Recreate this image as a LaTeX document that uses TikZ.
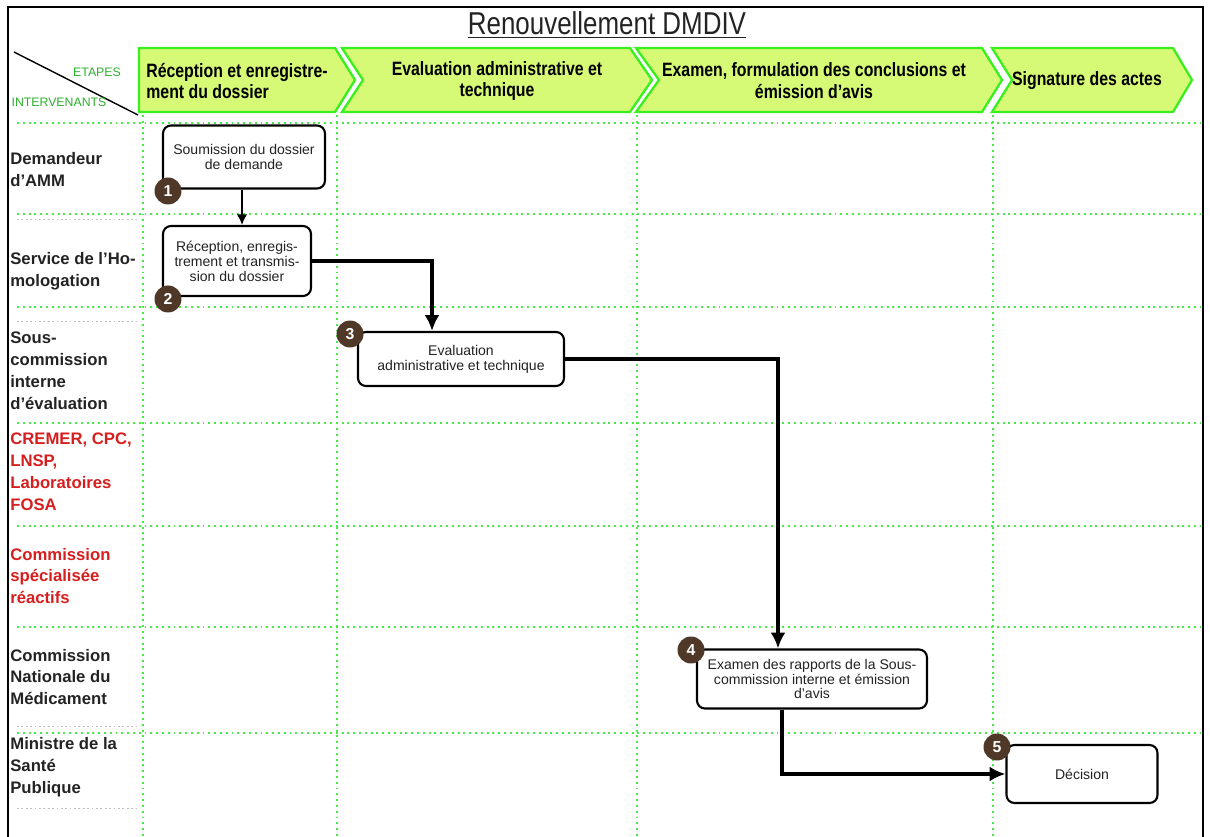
\documentclass[tikz,border=0pt]{standalone}
\usepackage{fontspec}
\setmainfont{Liberation Sans}
\newfontfamily\narrowfont[FakeStretch=0.82]{Liberation Sans}
\usetikzlibrary{arrows.meta}

\definecolor{stagefill}{RGB}{214,250,118}
\definecolor{stageline}{RGB}{55,240,30}
\definecolor{gridgreen}{RGB}{70,235,70}
\definecolor{badgebrown}{RGB}{80,56,40}
\definecolor{actorred}{RGB}{215,30,30}
\definecolor{actorgray}{RGB}{35,35,35}
\definecolor{headgreen}{RGB}{45,175,45}

\tikzset{
  stage/.style={draw=stageline, fill=stagefill, line width=1.3pt, line join=miter},
  stagetext/.style={font=\narrowfont\bfseries\fontsize{11}{12.5}\selectfont, text=black, inner sep=0pt},
  lane/.style={gridgreen, line width=1.1pt, dash pattern=on 1.1pt off 2.2pt},
  faintlane/.style={black!25, line width=0.5pt, dash pattern=on 1pt off 1.5pt},
  actor/.style={anchor=west, align=left, inner sep=0pt, text=actorgray,
    font=\bfseries\fontsize{9.5}{12.5}\selectfont},
  taskbox/.style={draw, line width=1.2pt, rounded corners=4.5pt, fill=white, align=center,
    text=actorgray, font=\fontsize{8}{8.5}\selectfont, inner sep=2pt},
  badge/.style={circle, fill=badgebrown, text=white, inner sep=0pt, minimum size=0.54cm,
    font=\bfseries\fontsize{9}{9}\selectfont},
  flow/.style={line width=2pt, -{Latex[length=9pt,width=8.5pt]}},
  thinflow/.style={line width=1.1pt, -{Latex[length=6pt,width=6pt]}}
}

\begin{document}
\begin{tikzpicture}[x=0.02cm, y=-0.02cm]
		\useasboundingbox (0,0) rectangle (1210,837);
		
		%%%%% frame and title %%%%%
		\draw[line width=1.4pt] (8,860) -- (8,7) -- (1203,7) -- (1203,860);
		\node[font=\narrowfont\fontsize{18}{20}\selectfont, text=actorgray] (title) at (607,25) {\underline{Renouvellement DMDIV}};
		
		%%%%% stages %%%%%
		\draw[stage] (139,48) -- (335,48) -- (355,80) -- (335,112) -- (139,112) -- cycle;
		\draw[stage] (342,48) -- (630,48) -- (652,80) -- (630,112) -- (342,112) -- (363,80) -- cycle;
		\draw[stage] (636,48) -- (982,48) -- (1002,80) -- (982,112) -- (636,112) -- (659,80) -- cycle;
		\draw[stage] (992,48) -- (1173,48) -- (1192,80) -- (1173,112) -- (992,112) -- (1012,80) -- cycle;
		\node[stagetext, anchor=west, align=left] (stage1) at (146,81) {Réception et enregistre-\\ment du dossier};
		\node[stagetext, align=center] (stage2) at (497,81) {Evaluation administrative et\\technique};
		\node[stagetext, align=center] (stage3) at (814,81) {Examen, formulation des conclusions et\\émission d’avis};
		\node[stagetext] (stage4) at (1087,81) {Signature des actes};
		
		%%%%% corner header %%%%%
		\draw[line width=0.8pt] (14,52) -- (138,115);
		\node[text=headgreen, font=\fontsize{7}{8}\selectfont] (etapes) at (97,72) {ETAPES};
		\node[text=headgreen, font=\fontsize{7}{8}\selectfont] (intervenants) at (59,102) {INTERVENANTS};
		
		%%%%% swim lanes %%%%%
		\draw[lane] (17,123) -- (1200,123);
		\draw[lane] (17,214) -- (1200,214);
		\draw[lane] (17,307) -- (1200,307);
		\draw[lane] (17,423) -- (1200,423);
		\draw[lane] (17,526) -- (1200,526);
		\draw[lane] (17,627) -- (1200,627);
		\draw[lane] (17,733) -- (1200,733);
		\draw[faintlane] (17,219) -- (140,219);
		\draw[faintlane] (17,321) -- (140,321);
		\draw[faintlane] (17,726) -- (140,726);
		\draw[faintlane] (17,808) -- (140,808);
		\draw[lane] (143,115) -- (143,837);
		\draw[lane] (337,115) -- (337,837);
		\draw[lane] (637,115) -- (637,837);
		\draw[lane] (993,115) -- (993,837);
		
		%%%%% actors %%%%%
		\node[actor] (demandeur) at (10,170) {Demandeur\\d’AMM};
		\node[actor] (service) at (10,271) {Service de l’Ho-\\mologation};
		\node[actor] (souscom) at (10,371) {Sous-\\commission\\interne\\d’évaluation};
		\node[actor, text=actorred] (cremer) at (10,472) {CREMER, CPC,\\LNSP,\\Laboratoires\\FOSA};
		\node[actor, text=actorred] (comspec) at (10,576) {Commission\\spécialisée\\réactifs};
		\node[actor] (cnm) at (10,677) {Commission\\Nationale du\\Médicament};
		\node[actor] (ministre) at (10,767) {Ministre de la\\Santé\\Publique};
		
		%%%%% tasks %%%%%
		\node[taskbox, minimum width=3.24cm, minimum height=1.26cm] (soumission) at (244,157) {Soumission du dossier\\de demande};
		\node[taskbox, minimum width=2.96cm, minimum height=1.4cm] (reception) at (237,261) {Réception, enregis-\\trement et transmis-\\sion du dossier};
		\node[taskbox, minimum width=4.12cm, minimum height=1.08cm] (evaluation) at (461,359) {Evaluation\\administrative et technique};
		\node[taskbox, minimum width=4.6cm, minimum height=1.18cm] (examen) at (812,679) {Examen des rapports de la Sous-\\commission interne et émission\\d’avis};
		\node[taskbox, minimum width=3.02cm, minimum height=1.16cm] (decision) at (1082,774) {Décision};
		
		\node[badge] (n1) at (168,191) {1};
		\node[badge] (n2) at (168,299) {2};
		\node[badge] (n3) at (350,334) {3};
		\node[badge] (n4) at (691,650) {4};
		\node[badge] (n5) at (997,747) {5};
		
		%%%%% flows %%%%%
		\draw[thinflow] ([xshift=-0.04cm]soumission.south) -- ([xshift=-0.04cm]soumission.south |- reception.north);
		\draw[flow] (reception.east) -| ([xshift=-0.58cm]evaluation.north);
		\draw[flow] (evaluation.east) -| ([xshift=-0.68cm]examen.north);
		\draw[flow] ([xshift=-0.6cm]examen.south) |- (decision.west);
		%%%%% END %%%%%
	\end{tikzpicture}
\end{document}
